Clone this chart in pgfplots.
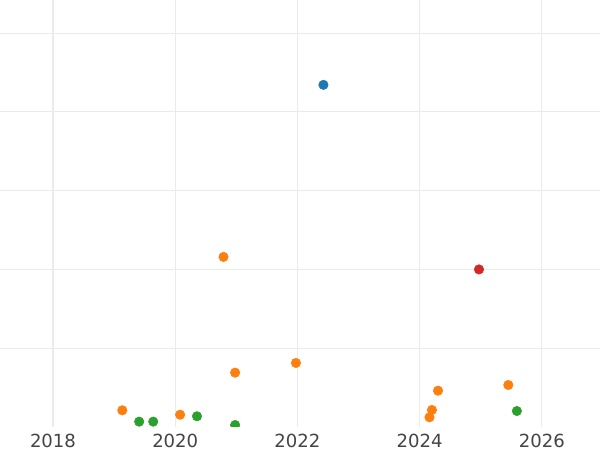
\documentclass[border=0pt]{standalone}
\usepackage{pgfplots}
\pgfplotsset{compat=1.18}
\usepackage{fontspec}
\setmainfont{DejaVu Sans}
\definecolor{tabblue}{HTML}{1F77B4}
\definecolor{taborange}{HTML}{FF7F0E}
\definecolor{tabgreen}{HTML}{2CA02C}
\definecolor{tabred}{HTML}{D62728}
\definecolor{gridc}{HTML}{EBEBEB}
\definecolor{tickc}{HTML}{444444}
\begin{document}
\begin{tikzpicture}
\begin{axis}[
  at={(0,0)}, anchor=south west,
  scale only axis, width=432pt, height=307.44pt,
  xmin=2017.133, xmax=2026.95,
  ymin=0, ymax=5.42,
  axis line style={draw=none},
  xtick={2018,2020,2022,2024,2026},
  ytick={1,2,3,4,5},
  yticklabels={},
  xticklabels={2018,2020,2022,2024,2026},
  /pgf/number format/assume math mode=true,
  xticklabel style={font=\fontsize{13}{15}\selectfont, text=tickc, anchor=base, yshift=-14.9pt},
  xticklabel pos=lower,
  major tick length=0pt,
  tick style={draw=none},
  grid=major,
  major grid style={gridc, line width=0.75pt},
  clip mode=individual,
  clip marker paths=true,
  every axis plot/.append style={only marks, mark=*, mark size=3.4pt},
]
\addplot[tabblue, mark options={draw=tabblue, fill=tabblue}] coordinates {(2022.425,4.343)};
\addplot[taborange, mark options={draw=taborange, fill=taborange}] coordinates {
(2020.79,2.159) (2021.975,0.813) (2020.98,0.69) (2019.134,0.212) (2020.08,0.156)
(2024.30,0.461) (2024.20,0.216) (2024.16,0.123) (2025.45,0.533)};
\addplot[tabgreen, mark options={draw=tabgreen, fill=tabgreen}] coordinates {
(2019.41,0.068) (2019.64,0.068) (2020.356,0.136) (2020.98,0.025) (2025.59,0.203)};
\addplot[tabred, mark options={draw=tabred, fill=tabred}] coordinates {(2024.97,2.0)};
\end{axis}
\pgfresetboundingbox
\path[use as bounding box] (0,-16.56pt) rectangle (432pt,307.44pt);
\end{tikzpicture}
\end{document}
